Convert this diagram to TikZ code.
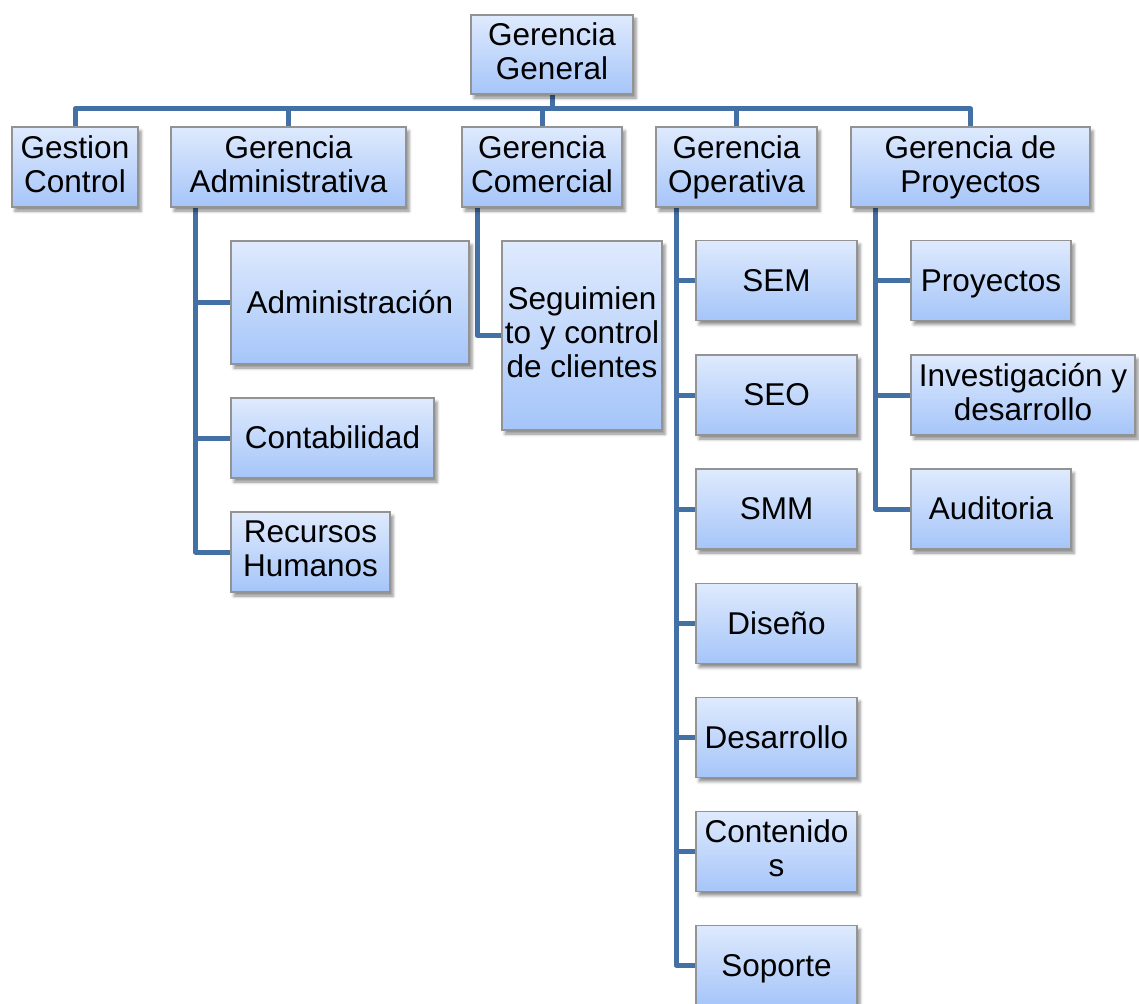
\documentclass[tikz,border=0pt]{standalone}
\usepackage{fontspec}
\setmainfont{Liberation Sans}
\usetikzlibrary{shadows.blur,backgrounds}
\definecolor{linea}{HTML}{4370A5}
\definecolor{cajaarriba}{HTML}{DFEAFD}
\definecolor{cajaabajo}{HTML}{A5C5F9}
\tikzset{
  caja/.style={draw=gray!85, line width=1.2pt, top color=cajaarriba, bottom color=cajaabajo,
    align=center, inner sep=0pt, font=\fontsize{31.5}{34}\selectfont,
    execute at begin node=\rule{0pt}{27.8pt}, execute at end node=\rule[-6.2pt]{0pt}{6.2pt},
    blur shadow={shadow xshift=3pt, shadow yshift=-4pt, shadow blur radius=3pt, shadow opacity=45}},
  tam/.style 2 args={minimum width=#1pt, minimum height=#2pt},
  rama/.style={draw=linea, line width=5pt, line join=round}
}
\begin{document}
\begin{tikzpicture}[x=1pt, y=-1pt]
  \useasboundingbox (0,0) rectangle (1139,1003);
  % nivel superior
  \node[caja, tam={162}{79}] (gg) at (552, 54.5) {Gerencia\\General};
  \node[caja, tam={126}{80}] (gc) at (75, 167) {Gestion\\Control};
  \node[caja, tam={235}{80}] (gadm) at (288.5, 167) {Gerencia\\Administrativa};
  \node[caja, tam={160}{80}] (gcom) at (542, 167) {Gerencia\\Comercial};
  \node[caja, tam={161}{80}] (gop) at (736.5, 167) {Gerencia\\Operativa};
  \node[caja, tam={239}{80}] (gproy) at (970.5, 167) {Gerencia de\\Proyectos};
  % administrativa
  \node[caja, tam={238}{123}] (adm) at (350, 302.5) {Administración};
  \node[caja, tam={203}{80}] (cont) at (332.5, 438) {Contabilidad};
  \node[caja, tam={159}{80}] (rh) at (310.5, 552) {Recursos\\Humanos};
  % comercial
  \node[caja, tam={160}{189}] (seg) at (582, 335.5) {Seguimien\\to y control\\de clientes};
  % operativa
  \node[caja, tam={161}{80}] (sem) at (776.5, 280.5) {SEM};
  \node[caja, tam={161}{80}] (seo) at (776.5, 395) {SEO};
  \node[caja, tam={161}{80}] (smm) at (776.5, 509) {SMM};
  \node[caja, tam={161}{80}] (dis) at (776.5, 623.5) {Diseño};
  \node[caja, tam={161}{80}] (des) at (776.5, 737.5) {Desarrollo};
  \node[caja, tam={161}{80}] (cnt) at (776.5, 851.5) {Contenido\\s};
  \node[caja, tam={161}{80}] (sop) at (776.5, 965.5) {Soporte};
  % proyectos
  \node[caja, tam={160}{80}] (proy) at (991, 280.5) {Proyectos};
  \node[caja, tam={224}{80}] (inv) at (1023, 395) {Investigación y\\desarrollo};
  \node[caja, tam={160}{80}] (aud) at (991, 509) {Auditoria};
  \begin{scope}[on background layer]
    \coordinate (bus) at (552, 109);
    \draw[rama] (gg.south) -- (bus);
    \draw[rama] (gc.north) |- (bus) -| (gproy.north);
    \foreach \n in {gadm, gcom, gop}
      \draw[rama] (\n.north) -- (\n.north |- bus);
    % ramas hijas
    \draw[rama] ([xshift=25pt]gadm.south west) |- (rh.west);
    \foreach \n in {adm, cont}
      \draw[rama] (\n.west) -- ++(-35, 0);
    \draw[rama] ([xshift=16pt]gcom.south west) |- (seg.west);
    \draw[rama] ([xshift=21pt]gop.south west) |- (sop.west);
    \foreach \n in {sem, seo, smm, dis, des, cnt}
      \draw[rama] (\n.west) -- ++(-19, 0);
    \draw[rama] ([xshift=25pt]gproy.south west) |- (aud.west);
    \foreach \n in {proy, inv}
      \draw[rama] (\n.west) -- ++(-35, 0);
  \end{scope}
\end{tikzpicture}
\end{document}
